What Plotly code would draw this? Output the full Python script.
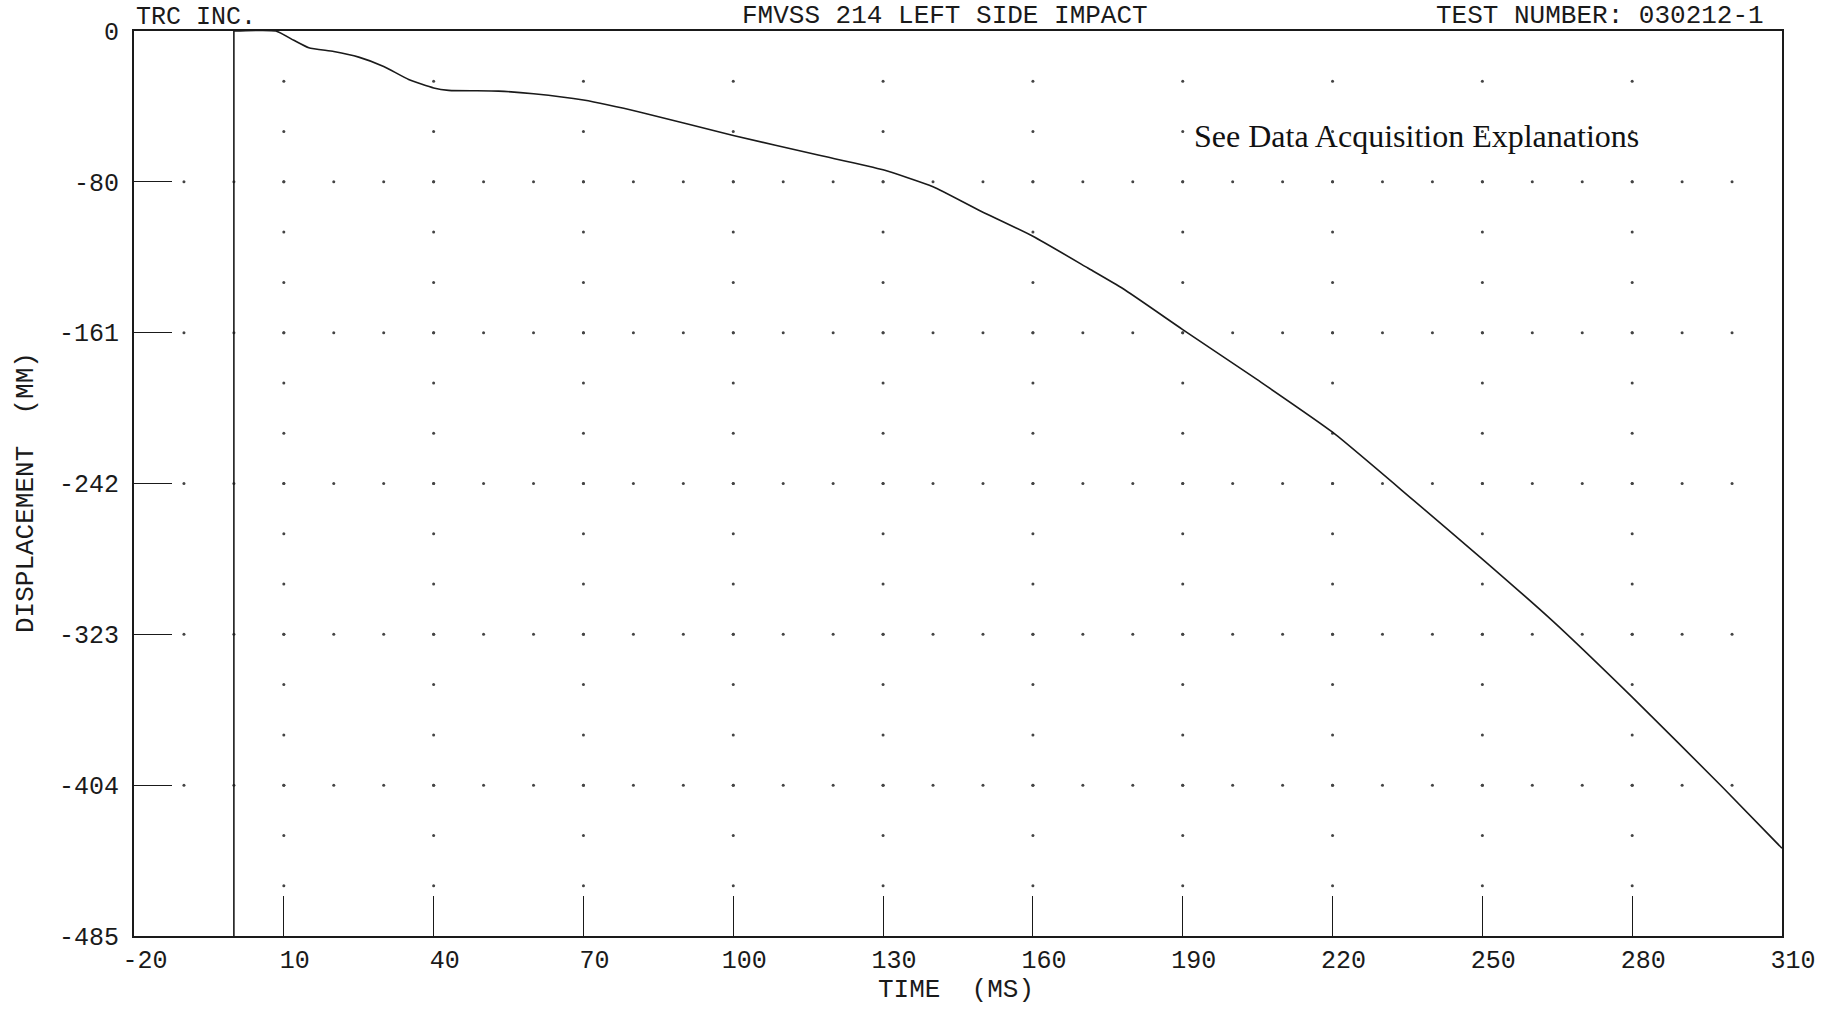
import numpy as np
import plotly.graph_objects as go

# ---- data ----
TIME_MS = [0, 8.4, 12, 15, 20, 25, 30, 35, 40, 43, 53, 60, 70, 82, 100, 117,
           130, 140, 149, 160, 171, 178, 190, 205, 220, 236, 250, 264, 280, 298, 310]
DISPLACEMENT_MM = [0, 0, -5, -9.0, -11, -14, -19, -26, -30.5, -31.8, -32.2, -33.6,
                   -37, -43.9, -56, -66.5, -74.4, -83.5, -95.8, -110, -127, -138,
                   -160, -187, -215, -251, -283, -316, -357, -405, -438]

X_TICKS = [-20, 10, 40, 70, 100, 130, 160, 190, 220, 250, 280, 310]
X_TICK_LABELS = ["-20", "10", "40", "70", "100", "130", "160", "190", "220", "250", "280", "310"]
Y_TICK_LABELS = ["0", "-80", "-161", "-242", "-323", "-404", "-485"]
Y_MIN, Y_MAX = -485, 0
X_MIN, X_MAX = -20, 310

HEADER_LEFT = "TRC INC."
HEADER_CENTER = "FMVSS 214 LEFT SIDE IMPACT"
HEADER_RIGHT = "TEST NUMBER: 030212-1"
NOTE = "See Data Acquisition Explanations"
X_TITLE = "TIME\u00a0\u00a0(MS)"
Y_TITLE = "DISPLACEMENT\u00a0\u00a0(MM)"

y_ticks = np.linspace(Y_MAX, Y_MIN, len(Y_TICK_LABELS))

# dotted plotter grid derived from the axis ticks
minor_y = np.linspace(Y_MAX, Y_MIN, 3 * (len(Y_TICK_LABELS) - 1) + 1)[1:-1]
row_x = np.arange(X_MIN + 10, X_MAX, 10)
gx, gy = [], []
for yv in y_ticks[1:-1]:
    gx += list(row_x)
    gy += [yv] * len(row_x)
for xv in X_TICKS[1:-1]:
    for yv in minor_y:
        gx.append(xv)
        gy.append(yv)

MONO = "Liberation Mono, DejaVu Sans Mono, monospace"
INK = "#1a1a1a"

# page body margin is removed (see post_script), so page pixels == figure pixels
W, H = 1827, 1009
L, T = 134, 31
R = W - 1782
B = H - 936
PW, PH = W - L - R, H - T - B


def px_x(p):
    return (p - L) / PW


def px_y(p):
    return (H - B - p) / PH


fig = go.Figure()
fig.add_trace(go.Scatter(x=gx, y=gy, mode="markers",
                         marker=dict(size=3, color="#444444"),
                         hoverinfo="skip", showlegend=False))
fig.add_trace(go.Scatter(x=TIME_MS, y=DISPLACEMENT_MM, mode="lines",
                         line=dict(color=INK, width=1.6, shape="spline", smoothing=0.5),
                         showlegend=False))
fig.add_vline(x=0, line=dict(color=INK, width=1.6))

fig.update_layout(
    width=W, height=H,
    margin=dict(l=L, r=R, t=T, b=B),
    paper_bgcolor="white", plot_bgcolor="white",
    font=dict(family=MONO, color=INK, size=24),
    showlegend=False,
    xaxis=dict(range=[X_MIN, X_MAX], tickmode="array", tickvals=X_TICKS, ticktext=X_TICK_LABELS,
               ticks="inside", ticklen=40, tickwidth=1.2, tickcolor=INK,
               showline=True, linecolor=INK, linewidth=2.2, mirror=True, automargin=False,
               showgrid=False, zeroline=False, ticklabelshift=11, ticklabelstandoff=0,
               tickfont=dict(family=MONO, size=25, color=INK)),
    yaxis=dict(range=[Y_MIN, Y_MAX], tickmode="array", tickvals=list(y_ticks), ticktext=Y_TICK_LABELS,
               ticks="inside", ticklen=38, tickwidth=1.2, tickcolor=INK,
               showline=True, linecolor=INK, linewidth=2.2, mirror=True, automargin=False,
               showgrid=False, zeroline=False, ticklabelstandoff=8,
               tickfont=dict(family=MONO, size=25, color=INK)),
)

# axis titles
fig.add_annotation(text=X_TITLE, xref="paper", yref="paper", x=px_x(956), y=px_y(990),
                   xanchor="center", yanchor="middle", showarrow=False,
                   font=dict(family=MONO, size=26, color=INK))
fig.add_annotation(text=Y_TITLE, xref="paper", yref="paper", x=px_x(26), y=px_y(493),
                   xanchor="center", yanchor="middle", showarrow=False, textangle=-90,
                   font=dict(family=MONO, size=26, color=INK))

# header texts
fig.add_annotation(text=HEADER_LEFT, xref="paper", yref="paper", x=px_x(134), y=px_y(18),
                   xanchor="left", yanchor="middle", showarrow=False,
                   font=dict(family=MONO, size=25, color=INK))
fig.add_annotation(text=HEADER_CENTER, xref="paper", yref="paper", x=px_x(945), y=px_y(16),
                   xanchor="center", yanchor="middle", showarrow=False,
                   font=dict(family=MONO, size=26, color=INK))
fig.add_annotation(text=HEADER_RIGHT, xref="paper", yref="paper", x=px_x(1766), y=px_y(16),
                   xanchor="right", yanchor="middle", showarrow=False,
                   font=dict(family=MONO, size=26, color=INK))
fig.add_annotation(text=NOTE, xref="paper", yref="paper", x=px_x(1192), y=px_y(136),
                   xanchor="left", yanchor="middle", showarrow=False,
                   font=dict(family="Liberation Serif, Times New Roman, serif", size=32, color="#111111"))

fig.write_html("out.html", config={"displayModeBar": False},
               post_script="document.body.style.margin='0';document.body.style.overflow='hidden';")
